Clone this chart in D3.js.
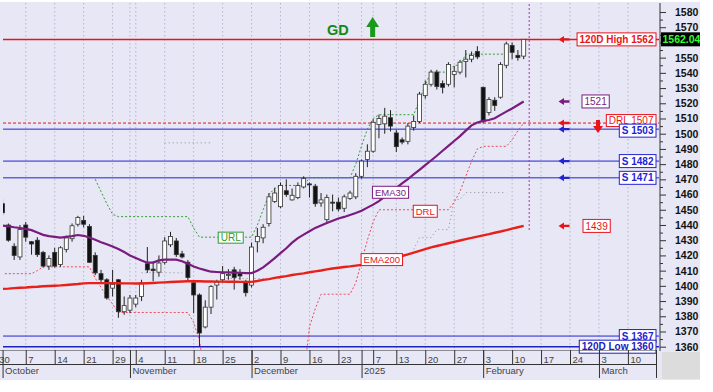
<!DOCTYPE html>
<html><head><meta charset="utf-8">
<script src="https://cdn.jsdelivr.net/npm/d3@7"></script>
<style>body{margin:0;background:#fff}svg{display:block}text{font-family:"Liberation Sans",Arial,sans-serif}</style>
</head><body><svg id="c" width="713" height="392"></svg>
<script>
const _ = null;
// trading calendar
const startDate = "2024-09-30", endDate = "2025-03-14";
const holidays = ["2024-10-28","2024-12-24","2024-12-25","2024-12-26","2025-01-01","2025-01-06"];
// candles (Sep 30 2024 .. Feb 12 2025)
const opens = [1450,1454,1440,1426,1419,1440,1429,1430,1422,1413, 1422,1414,1424,1431,1440.5,1443,1439,1420,1408,1404, 1398.5,1404,1383,1384,1388,1393,1414.5,1411,1409,1415.5, 1427,1429.5,1421,1415.5,1402,1394,1373,1386,1400.5,1404, 1407,1410.5,1408,1402.5,1400.5,1429,1431.5,1441,1455.5,1452, 1462.5,1456.5,1458,1465,1467,1465.5,1454.5,1443.5,1455,1455, 1451,1457.5,1458.5,1472,1483,1488.5,1506,1506.5,1510.5,1500.5, 1496,1495,1504,1508,1525,1532.5,1540.5,1533,1532.5,1539, 1540.5,1547.5,1549,1554,1530.5,1514,1522,1524,1545,1558, 1551.5,1551];
const highs = [1458,1457,1441,1428,1440,1442,1429.5,1432,1423,1420, 1425,1426,1433,1441,1446,1446,1440.5,1422,1410.5,1405, 1410.5,1404.5,1393,1394,1394,1404,1425.5,1416,1420,1432, 1435.5,1431.5,1423,1417,1402.5,1395,1390.5,1400.5,1404,1413, 1411,1412.5,1411,1404,1428.5,1438,1440.5,1461,1464.5,1468, 1470,1464,1468,1472,1468,1467,1461,1460,1460,1458, 1460,1462.5,1474,1483,1493,1509.5,1512.5,1517,1515.5,1502.5, 1497.5,1507,1512,1527.5,1535,1542,1542,1535,1547,1544.5, 1548.5,1555,1554,1557.5,1531,1524,1524,1547,1560.5,1560, 1555,1562.04];
const lows = [1446,1446,1429,1417,1417,1429,1420.5,1419,1412,1410.5, 1412,1412.5,1422,1429,1439,1438.5,1415,1407,1402.5,1391, 1393,1379,1381,1382,1386,1390,1408.5,1403,1406,1414, 1425.5,1419,1418,1403.5,1382,1360,1372,1381.5,1391,1402, 1404,1397.5,1404,1393,1399,1422,1428,1439,1454.5,1451, 1458.5,1456,1457,1464,1458,1452,1452,1442,1449,1449, 1448.5,1456.5,1457,1470.5,1478,1487.5,1497,1500,1501.5,1488, 1493,1493,1502,1507,1523,1531,1529,1526.5,1531,1530.5, 1539,1537,1547,1549,1507,1512,1515,1523,1543,1549, 1548,1549];
const closes = [1455,1448,1430,1420,1437,1432,1427.5,1420.5,1413,1418, 1413,1425,1431.5,1439.5,1445,1440.5,1415.5,1408.5,1404,1392, 1401,1383,1387,1392,1392,1402,1410.5,1410,1415,1429.5, 1432.5,1420.5,1419,1405.5,1394,1369,1386,1399.5,1402.5,1408, 1407.5,1405.5,1406.5,1395.5,1425.5,1432.5,1438.5,1458.5,1461,1466, 1460,1459.5,1466,1470.5,1466.5,1454,1456.5,1458,1454.5,1450.5, 1458.5,1461,1472,1482,1488.5,1507.5,1510,1511.5,1505,1491.5, 1494.5,1505,1508,1526,1532.5,1540.5,1531,1530.5,1545.5,1541, 1547,1549,1551.5,1550.5,1508,1522.5,1518.5,1545.5,1559,1553.5, 1550,1562.04];
const ema30 = [1440.0,1439.6,1439.1,1438.5,1438.0,1437.4,1436.6,1435.1,1433.5,1432.7, 1432.2,1431.7,1432.2,1432.7,1433.4,1432.9,1431.8,1430.3,1428.7,1427.3, 1425.8,1424.2,1422.2,1420.0,1418.3,1416.6,1415.2,1415.3,1416.7,1417.2, 1417.3,1417.2,1416.2,1414.6,1412.7,1411.4,1410.3,1409.3,1409.1,1408.9, 1408.8,1408.7,1408.6,1408.3,1408.4,1409.9,1412.1,1415.1,1418.2,1421.5, 1424.7,1428.4,1431.4,1433.7,1435.9,1438.1,1439.7,1441.3,1442.8,1444.3, 1445.3,1446.6,1447.9,1449.4,1451.4,1453.4,1455.7,1458.7,1461.5,1464.4, 1467.3,1470.2,1473.2,1476.2,1479.3,1482.4,1485.5,1488.8,1492.0,1495.2, 1498.4,1502.0,1505.5,1507.4,1508.4,1509.0,1510.2,1512.4,1514.5,1516.6, 1518.9,1521.2];
const ema200 = [1397.8,1398.0,1398.2,1398.5,1398.7,1398.9,1399.2,1399.4,1399.7,1399.9, 1400.1,1400.3,1400.6,1400.9,1401.2,1401.6,1401.8,1401.8,1401.8,1401.8, 1401.8,1401.7,1401.6,1401.6,1401.5,1401.5,1401.7,1401.9,1402.1,1402.3, 1402.5,1402.7,1402.9,1403.0,1403.0,1403.0,1402.9,1402.9,1402.8,1402.8, 1402.7,1402.7,1402.6,1402.6,1402.6,1403.2,1403.9,1404.4,1405.2,1405.8, 1406.4,1407.1,1407.7,1408.2,1408.9,1409.5,1410.1,1410.8,1411.4,1411.9, 1412.4,1412.8,1413.3,1413.8,1414.5,1415.3,1416.2,1417.0,1417.9,1418.7, 1419.6,1420.7,1421.9,1423.0,1424.2,1425.3,1426.2,1427.1,1428.0,1428.9, 1429.8,1430.7,1431.5,1432.4,1433.2,1434.0,1434.9,1435.7,1436.6,1437.6, 1438.5,1439.4];
const url = [_,_,_,_,_,_,_,_,_,_, _,_,_,_,_,_,_,1470,1462,1454, 1447,1445.5,1445.5,1445.5,1445.5,1445.5,1445.5,1445.5,1445.5,1445.5, 1445.5,1445.5,1445.5,1445.5,1438,1432,1432,1432,1432,1432, 1432,1432,1432,1432,1432,1440,1450,1460,1464,1466, 1466,1466,1466,1466,1471,1471,1471,1471,1471,1471, 1471,1471,1480,1492,1503,1510,1512.5,1512.5,1512.5,1512.5, 1512.5,1512.5,1512.5,1522,1532,1540.5,1540.5,1540.5,1540.5,1545, 1545,1552.3,1552.3,1552.3,1552.3,1552.3,1552.3,1552.3,1552.3,_, _,_];
const drl = [1408,1408,1408,1408,1408,1408,1408,1410,1412.5,1412.5, 1412.5,1412.5,1412.5,1412.5,1412.5,1412.5,1412.5,1405,1399,1393, 1388,1382.5,1382.5,1382.5,1382.5,1382.5,1382.5,1382.5,1382.5,1382.5, 1382.5,1382.5,1382.5,1382.5,1376,1364,1340,1340,1340,1340, 1340,1340,1340,1340,1340,1340,1340,1340,1340,1340, 1340,1340,1340,1340,1373,1385,1394.5,1394.5,1394.5,1394.5, 1394.5,1394.5,1402,1416,1430,1442,1450,1450,1450,1450, 1450,1450,1450,1450,1450,1450,1450,1450,1450,1455, 1462,1472,1482,1490,1491.7,1491.7,1491.7,1491.7,1491.7,1496, 1502,1507];
const greyLine = [_,_,_,_,_,_,_,_,_,_, _,_,_,_,_,_,_,_,_,_, _,_,_,_,_,1408.6,1408.6,1408.6,1408.6,1408.6, 1408.6,1408.6,1408.6,_,_,_,_,_,_,1404.8, 1404.8,1404.8,1404.8,1404.8,1404.8,1404.8,1404.8,1404.8,1404.8,1404.8, _,_,_,_,_,_,_,_,_,_, _,_,_,_,_,_,_,_,_,_, _,_,1424,1431.7,1431.7,1431.7,1437,1437,1437,1456.7, 1456.7,1461.3,1461.3,1461.3,1461.3,1461.3,1461.3,1461.3,1461.3,_, _,_];
const greyHigh = [_,_,_,_,_,_,_,_,_,_, _,_,_,_,_,_,_,_,_,_, _,_,_,_,_,_,_,_,_,1494, 1494,1494,1494,1494,1494,1494,1494,1494,_,_];
// levels
const levels = [
  {v:1562, label:"120D High 1562", color:"#e8141a", kind:"high", arrow:true},
  {v:1507, label:"DRL 1507", color:"#e8141a", kind:"drl", arrow:true},
  {v:1503, label:"S 1503", color:"#2323d6", kind:"s", arrow:true},
  {v:1482, label:"S 1482", color:"#2323d6", kind:"s", arrow:true},
  {v:1471, label:"S 1471", color:"#2323d6", kind:"s", arrow:true},
  {v:1367, label:"S 1367", color:"#2323d6", kind:"s", arrow:false},
  {v:1360, label:"120D Low 1360", color:"#2020c0", kind:"low", arrow:false}
];
const lastPrice = 1562.04;
const yTicks = [1360,1370,1380,1390,1400,1410,1420,1430,1440,1450,1460,1470,1480,1490,1500,1510,1520,1530,1540,1550,1560,1570,1580];
const dayTicks = ["2024-09-30","2024-10-07","2024-10-14","2024-10-21","2024-10-29","2024-11-04","2024-11-11","2024-11-18","2024-11-25","2024-12-02","2024-12-09","2024-12-16","2024-12-23","2025-01-07","2025-01-13","2025-01-20","2025-01-27","2025-02-03","2025-02-10","2025-02-17","2025-02-24","2025-03-03","2025-03-10"];
const monthTicks = ["2024-10-01","2024-11-01","2024-12-02","2025-01-02","2025-02-03","2025-03-03"];
const monthLabels = ["October","November","December","2025","February","March"];
const signalDate = "2025-01-07", signalText = "GD";

// ---------- build ----------
const fmt = d3.utcFormat("%Y-%m-%d"), parse = d3.utcParse("%Y-%m-%d");
const days = d3.utcDays(parse(startDate), d3.utcDay.offset(parse(endDate),1))
  .filter(d => d.getUTCDay()%6 !== 0 && !holidays.includes(fmt(d))).map(fmt);
const PL=3, PR=659, PT=3, PB=350;
const step = 5.79;
const x = d3.scalePoint().domain(days).range([-3.2, -3.2 + step*(days.length-1)]);
const y = d3.scaleLinear().domain([1360,1580]).range([346.7,12]);
const xi = i => { const f = Math.floor(i), a = x(days[f]); return a + (i-f)*x.step(); };

const svg = d3.select("#c");
svg.append("rect").attr("x",0).attr("y",2).attr("width",700).attr("height",378).attr("fill","#e7e7f6");
svg.append("rect").attr("x",662).attr("y",352).attr("width",38).attr("height",27).attr("fill","#dcdcdc");
const defs = svg.append("defs");
defs.append("clipPath").attr("id","plot").append("rect").attr("x",PL).attr("y",PT).attr("width",PR-PL).attr("height",PB-PT);
defs.append("clipPath").attr("id","xax").append("rect").attr("x",0).attr("y",PB).attr("width",658).attr("height",32);
defs.append("clipPath").attr("id","lp").append("rect").attr("x",660).attr("y",0).attr("width",40).attr("height",392);

const plot = svg.append("g").attr("clip-path","url(#plot)");
// vertical grid
plot.append("g").selectAll("line").data(dayTicks.concat(["2024-11-01","2025-01-02"])).join("line")
  .attr("x1",d=>x(d)).attr("x2",d=>x(d)).attr("y1",PT).attr("y2",PB)
  .attr("stroke","#a9a9c4").attr("stroke-width",0.8).attr("stroke-dasharray","1.5,2.5");

// level lines
levels.forEach(l=>{
  const ln = plot.append("line").attr("x1",PL).attr("x2",PR).attr("y1",y(l.v)).attr("y2",y(l.v)).attr("stroke",l.color);
  if(l.kind==="drl") ln.attr("stroke-width",1).attr("stroke-dasharray","3,2");
  else if(l.kind==="high") ln.attr("stroke-width",1.5);
  else if(l.kind==="low") ln.attr("stroke-width",1.6);
  else ln.attr("stroke-width",1);
});

// today marker
const lastIdx = closes.length-1;
svg.append("line").attr("x1",xi(lastIdx)+5.5).attr("x2",xi(lastIdx)+5.5).attr("y1",4).attr("y2",230)
  .attr("stroke","#a03ca0").attr("stroke-width",1).attr("stroke-dasharray","2,2");

const line = d3.line().defined(d=>d!=null).x((d,i)=>xi(i)).y(d=>y(d));
plot.append("path").attr("d",line(greyHigh)).attr("fill","none").attr("stroke","#8c8c9c").attr("stroke-width",1).attr("stroke-dasharray","1,3");
plot.append("path").attr("d",line(greyLine)).attr("fill","none").attr("stroke","#8c8c9c").attr("stroke-width",1).attr("stroke-dasharray","1,3");
plot.append("path").attr("d",line(url)).attr("fill","none").attr("stroke","#3a9a3a").attr("stroke-width",1).attr("stroke-dasharray","2,2");
plot.append("path").attr("d",line(drl)).attr("fill","none").attr("stroke","#ee4a5a").attr("stroke-width",1).attr("stroke-dasharray","2,2");

// candles
const cd = opens.map((o,i)=>({i, o, h:highs[i], l:lows[i], c:closes[i]}));
const cg = plot.append("g");
cg.selectAll("line").data(cd).join("line")
  .attr("x1",d=>xi(d.i)).attr("x2",d=>xi(d.i)).attr("y1",d=>y(d.h)).attr("y2",d=>y(d.l))
  .attr("stroke","#222").attr("stroke-width",1);
const bw = 4;
cg.selectAll("rect").data(cd).join("rect")
  .attr("x",d=>xi(d.i)-bw/2).attr("width",bw)
  .attr("y",d=>y(Math.max(d.o,d.c))).attr("height",d=>Math.max(1,Math.abs(y(d.o)-y(d.c))))
  .attr("fill",d=>d.c<d.o?"#111":"#fff").attr("stroke","#333").attr("stroke-width",0.8);

// EMAs
plot.append("path").attr("d",line(ema200)).attr("fill","none").attr("stroke","#e8201a").attr("stroke-width",2.4);
plot.append("path").attr("d",line(ema30)).attr("fill","none").attr("stroke","#7a1c7e").attr("stroke-width",2.2);

// label helper
function box(opts){
  const {x:bx, y:by, text, color, anchor="start", bold=false, fs=10, h=13, fill="#fff", tcolor} = opts;
  const g = svg.append("g");
  const r = g.append("rect");
  const t = g.append("text").text(text).attr("font-size",fs).attr("font-weight",bold?"bold":"normal")
    .attr("fill",tcolor||color).attr("y",by).attr("dy","0.36em");
  const w = t.node().getComputedTextLength();
  const pad = 2.5, W = w + pad*2;
  const x0 = anchor==="end" ? bx-W : anchor==="middle" ? bx-W/2 : bx;
  t.attr("x",x0+pad);
  r.attr("x",x0).attr("y",by-h/2).attr("width",W).attr("height",h).attr("fill",fill).attr("stroke",color).attr("stroke-width",1);
  return g;
}
function leftArrow(yy,color){
  svg.append("path").attr("d",`M558.5,${yy} L564,${yy-3.5} L564,${yy-1.2} L569.5,${yy-1.2} L569.5,${yy+1.2} L564,${yy+1.2} L564,${yy+3.5} Z`).attr("fill",color);
}

// series labels
box({x:xi(40.4), y:y(url[40])+0.5, text:"URL", color:"#2f9a2f", anchor:"middle", fs:10, h:11});
box({x:xi(68), y:y(ema30[68]), text:"EMA30", color:"#7a1c7e", anchor:"middle", fs:9.5, h:12});
box({x:xi(74), y:y(drl[74])+1.5, text:"DRL", color:"#e8141a", anchor:"middle", fs:9.5, h:12});
box({x:xi(66.5), y:y((ema200[66]+ema200[67])/2)-1, text:"EMA200", color:"#e8141a", anchor:"middle", fs:9.5, h:12});

// right-side level labels
levels.forEach(l=>{
  if(l.arrow) leftArrow(y(l.v), l.color);
});
leftArrow(y(ema30[lastIdx]), "#7a1c7e");
leftArrow(y(ema200[lastIdx]), "#e8141a");
box({x:582, y:y(ema30[lastIdx]), text:String(Math.floor(ema30[lastIdx])), color:"#7a1c7e", fs:10, h:13});
box({x:583, y:y(ema200[lastIdx]), text:String(Math.floor(ema200[lastIdx])), color:"#e8141a", fs:10, h:13});
const order = ["high","drl","s","low"];
const nudge = {drl:-2.5, s:0};
order.forEach(k=>levels.filter(l=>l.kind===k).forEach(l=>{
  const dy = (l.v===1503) ? 1.5 : (nudge[k]||0);
  box({x:656, y:y(l.v)+dy, text:l.label, color:l.color, anchor:"end", bold:l.kind!=="drl", fs:10, h:l.kind==="drl"?12:13});
}));
// red down arrow at DRL
const dax = 598, day0 = y(1507)-3;
svg.append("path").attr("d",`M${dax-2},${day0} L${dax+2},${day0} L${dax+2},${day0+6} L${dax+5},${day0+6} L${dax},${day0+13} L${dax-5},${day0+6} L${dax-2},${day0+6} Z`).attr("fill","#e8141a");

// GD signal
const sx = x(signalDate)-0.5;
svg.append("path").attr("d",`M${sx},17 L${sx+6.5},27 L${sx+2.5},27 L${sx+2.5},37 L${sx-2.5},37 L${sx-2.5},27 L${sx-6.5},27 Z`).attr("fill","#1a9a1a");
svg.append("text").attr("x",sx-24).attr("y",35).attr("text-anchor","end").attr("font-size",14.5).attr("font-weight","bold").attr("fill","#128a12").text(signalText);

// right axis (the 1560 label sits under the last-price box, as in the reference)
svg.append("line").attr("x1",660).attr("x2",660).attr("y1",PT).attr("y2",PB+1).attr("stroke","#333").attr("stroke-width",1);
const ya = svg.append("g").attr("transform","translate(660,0)")
  .call(d3.axisRight(y).tickValues(yTicks).tickSize(6).tickPadding(9)
    .tickFormat(d => Math.abs(y(d)-y(lastPrice)) < 8 ? "" : d3.format("d")(d)));
ya.select(".domain").remove();
ya.selectAll(".tick line").attr("stroke","#333");
ya.selectAll(".tick text").attr("font-size",10.5).attr("font-weight","bold").attr("fill","#111").attr("font-family","Liberation Sans, Arial, sans-serif");
const ym = svg.append("g").attr("transform","translate(660,0)")
  .call(d3.axisRight(y).tickValues(yTicks.slice(0,-1).map(v=>v+5)).tickSize(3).tickFormat(""));
ym.select(".domain").remove();
ym.selectAll(".tick line").attr("stroke","#333");

// last price
const lpg = svg.append("g").attr("clip-path","url(#lp)");
lpg.append("rect").attr("x",661).attr("y",y(lastPrice)-7).attr("width",40).attr("height",14).attr("fill","#000");
lpg.append("text").attr("x",662.5).attr("y",y(lastPrice)).attr("dy","0.36em").attr("font-size",10.5).attr("font-weight","bold").attr("fill","#33ff33").text(lastPrice.toFixed(2));

// bottom axis
const xa = svg.append("g").attr("clip-path","url(#xax)");
xa.append("line").attr("x1",0).attr("x2",657).attr("y1",PB).attr("y2",PB).attr("stroke","#333");
xa.append("line").attr("x1",0).attr("x2",657).attr("y1",364.5).attr("y2",364.5).attr("stroke","#333");
xa.append("line").attr("x1",656.5).attr("x2",656.5).attr("y1",PB).attr("y2",378).attr("stroke","#333");
const dA = xa.append("g").attr("transform",`translate(0,${PB})`)
  .call(d3.axisBottom(x).tickValues(dayTicks).tickSize(14.5).tickFormat(d=>String(+d.slice(8))));
dA.select(".domain").remove();
dA.selectAll(".tick line").attr("stroke","#333");
dA.selectAll(".tick text").attr("text-anchor","start").attr("x",2).attr("y",6).attr("dy","0.71em")
  .attr("font-size",9.5).attr("fill","#444").attr("font-family","Liberation Sans, Arial, sans-serif");
const mA = xa.append("g").attr("transform",`translate(0,${PB})`)
  .call(d3.axisBottom(x).tickValues(monthTicks).tickSize(28).tickFormat((d,i)=>monthLabels[i]));
mA.select(".domain").remove();
mA.selectAll(".tick line").attr("stroke","#333");
mA.selectAll(".tick text").attr("text-anchor","start").attr("x",2).attr("y",17.5).attr("dy","0.71em")
  .attr("font-size",9.5).attr("fill","#444").attr("font-family","Liberation Sans, Arial, sans-serif");
</script></body></html>
